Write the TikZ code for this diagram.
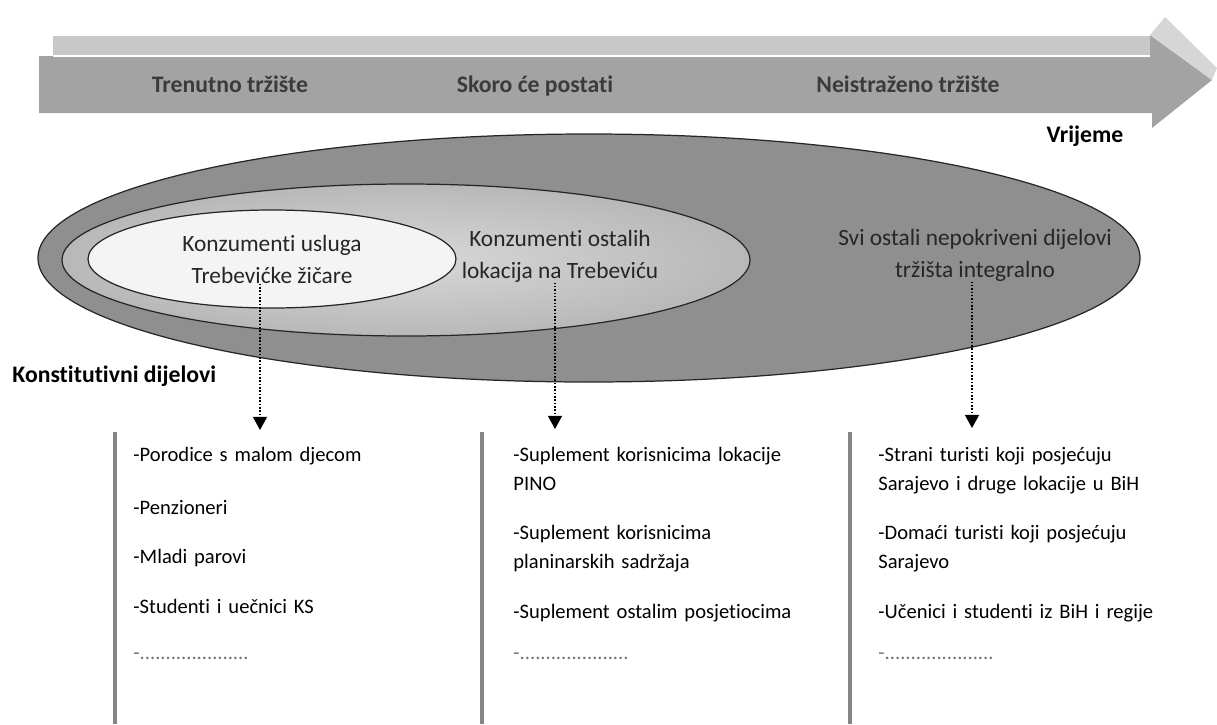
\documentclass[tikz,border=0pt]{standalone}
\usepackage{fontspec}
\setmainfont{Carlito}[Ligatures=NoCommon]
\usepackage{tikz}
\usepackage{xcolor}
\usetikzlibrary{shapes, arrows, arrows.meta, positioning}

\definecolor{bandlight}{HTML}{C8C8C8}
\definecolor{banddark}{HTML}{A3A3A3}
\definecolor{headlight}{HTML}{D6D6D6}
\definecolor{outergray}{HTML}{8F8F8F}
\definecolor{midgray}{HTML}{B8B8B8}
\definecolor{midlight}{HTML}{D8D8D8}
\definecolor{innergray}{HTML}{F4F4F4}
\definecolor{bargray}{HTML}{858585}
\definecolor{labelgray}{HTML}{3B3B3B}

\begin{document}
\begin{tikzpicture}[x=0.02cm, y=-0.02cm, line width=0.5pt,
        timelabel/.style={inner sep=0pt, anchor=base, font=\fontsize{13.5}{16}\selectfont\bfseries, text=labelgray},
        ringlabel/.style={inner sep=0pt, align=center, font=\fontsize{13.3}{18.2}\selectfont, text=black!85},
        listitem/.style={inner sep=0pt, anchor=base west, text width=7cm, align=left, font=\fontsize{11.7}{17}\selectfont},
        dotsitem/.style={inner sep=0pt, anchor=base west, font=\fontsize{11.7}{17}\selectfont, text=black!55},
        colbar/.style={draw=bargray, line width=2.3pt},
        ring/.style={draw=black!85, line width=0.7pt},
        dotarrow/.style={densely dotted, line width=0.9pt, -{Triangle[width=8pt,length=7.5pt]}}]
        \useasboundingbox (0,0) rectangle (1217,724);

        % time arrow
        \fill[bandlight] (53,36) rectangle (1150,56);
        \fill[banddark] (39,56) -- (1150,56) -- (1150,35) -- (1212,80) -- (1152,128) -- (1152,113) -- (39,113) -- cycle;
        \fill[headlight] (1150,35) -- (1165,17) -- (1217,68) -- (1212,80) -- cycle;
        \draw[white, line width=0.6pt] (53,56) -- (1150,56);
        \node [timelabel] (now) at (230,92) {Trenutno tržište};
        \node [timelabel] (soon) at (535,92) {Skoro će postati};
        \node [timelabel] (unknown) at (908,92) {Neistraženo tržište};
        \node [timelabel, text=black] (time) at (1085,142) {Vrijeme};

        % market rings
        \draw [ring, fill=outergray] (589,258) ellipse [x radius=551, y radius=124];
        \draw [ring, inner color=midlight, outer color=midgray] (406,260) ellipse [x radius=344, y radius=76];
        \draw [ring, fill=innergray] (272,259) ellipse [x radius=184, y radius=49];
        \node [ringlabel] (inTxt) at (272,259) {Konzumenti usluga\\Trebevićke žičare};
        \node [ringlabel] (midTxt) at (560,256) {Konzumenti ostalih\\lokacija na Trebeviću};
        \node [ringlabel] (outTxt) at (975,255) {Svi ostali nepokriveni dijelovi\\tržišta integralno};
        \node [timelabel, text=black, anchor=base west] (parts) at (12,382) {Konstitutivni dijelovi};

        % columns
        \draw [colbar] (115,432) -- (115,724);
        \draw [colbar] (482,432) -- (482,724);
        \draw [colbar] (850,432) -- (850,724);

        \node [listitem] (a1) at (133,461) {-Porodice s malom djecom};
        \node [listitem] (a2) at (133,514) {-Penzioneri};
        \node [listitem] (a3) at (133,563) {-Mladi parovi};
        \node [listitem] (a4) at (133,613) {-Studenti i uečnici KS};
        \node [dotsitem] (a5) at (133,659) {-.....................};

        \node [listitem] (b1) at (513,461) {-Suplement korisnicima lokacije\\PINO};
        \node [listitem] (b2) at (513,539) {-Suplement korisnicima\\planinarskih sadržaja};
        \node [listitem] (b3) at (513,618) {-Suplement ostalim posjetiocima};
        \node [dotsitem] (b4) at (513,659) {-.....................};

        \node [listitem] (c1) at (878,461) {-Strani turisti koji posjećuju\\Sarajevo i druge lokacije u BiH};
        \node [listitem] (c2) at (878,539) {-Domaći turisti koji posjećuju\\Sarajevo};
        \node [listitem] (c3) at (878,618) {-Učenici i studenti iz BiH i regije};
        \node [dotsitem] (c4) at (878,659) {-.....................};

        % pointers
        \coordinate (p1) at (260,430);
        \coordinate (p2) at (555,429);
        \coordinate (p3) at (972,428);
        \draw [dotarrow] (inTxt.south -| p1) -- (p1);
        \draw [dotarrow] (midTxt.south -| p2) -- (p2);
        \draw [dotarrow] (outTxt.south -| p3) -- (p3);
    \end{tikzpicture}
\end{document}
